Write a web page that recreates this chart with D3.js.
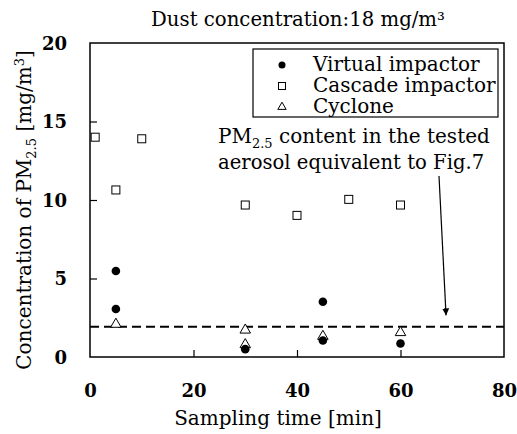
<!DOCTYPE html>
<html>
<head>
<meta charset="utf-8">
<script src="https://cdn.jsdelivr.net/npm/d3@7"></script>
<style>
  body { margin: 0; background: #fff; }
  svg text { font-family: "DejaVu Serif", "Liberation Serif", serif; fill: #000; }
</style>
</head>
<body>
<div id="chart"></div>
<script>
// sampling time [min] / PM2.5 concentration [mg/m3]
var virtualTime = [5, 5, 30, 45, 45, 60];
var virtualConc = [5.48, 3.06, 0.5, 3.52, 1.05, 0.86];
var cascadeTime = [1, 5, 10, 30, 40, 50, 60];
var cascadeConc = [14.0, 10.64, 13.9, 9.68, 9.02, 10.04, 9.68];
var cycloneTime = [5, 30, 30, 45, 60];
var cycloneConc = [2.15, 1.78, 0.85, 1.38, 1.62];
var pm25Level = 1.93;
var xTicks = [0, 20, 40, 60, 80];
var yTicks = [0, 5, 10, 15, 20];
var seriesNames = ["Virtual impactor", "Cascade impactor", "Cyclone"];

var margin = {top: 43, right: 13, bottom: 77, left: 90},
    width = 517 - margin.left - margin.right,
    height = 434 - margin.top - margin.bottom;

var svg = d3.select("#chart").append("svg")
    .attr("width", 517)
    .attr("height", 434);

var g = svg.append("g")
    .attr("transform", "translate(" + margin.left + "," + margin.top + ")");

var x = d3.scaleLinear().domain([0, 80]).range([0, width]);
var y = d3.scaleLinear().domain([0, 20]).range([height, 0]);

// frame
g.append("rect")
    .attr("width", width)
    .attr("height", height)
    .attr("fill", "none")
    .attr("stroke", "#000")
    .attr("stroke-width", 1.5);

// axes, ticks point inward
var xAxis = d3.axisBottom(x).tickValues(xTicks).tickSizeInner(-7).tickSizeOuter(0).tickPadding(27);
var yAxis = d3.axisLeft(y).tickValues(yTicks).tickSizeInner(-7).tickSizeOuter(0).tickPadding(23);

var gx = g.append("g")
    .attr("transform", "translate(0," + height + ")")
    .call(xAxis);
var gy = g.append("g").call(yAxis);

[gx, gy].forEach(function (a) {
    a.attr("font-family", null).attr("font-size", null);
    a.select(".domain").remove();
    a.selectAll(".tick line").attr("stroke", "#000").attr("stroke-width", 1.2);
    a.selectAll(".tick text")
        .style("font-size", "18px")
        .style("font-weight", "bold");
});
gx.selectAll(".tick text").attr("dy", null).attr("y", 40);
gy.selectAll(".tick text").attr("dy", "0.36em");
gx.selectAll(".tick").filter(function (d) { return d === 0 || d === 80; }).select("line").remove();
gy.selectAll(".tick").filter(function (d) { return d === 0 || d === 20; }).select("line").remove();

// dashed reference line
g.append("line")
    .attr("x1", x(0)).attr("x2", x(80))
    .attr("y1", y(pm25Level)).attr("y2", y(pm25Level))
    .attr("stroke", "#000")
    .attr("stroke-width", 2)
    .attr("stroke-dasharray", "9,5");

// markers
var tri = d3.symbol().type(d3.symbolTriangle).size(48);

g.selectAll(".cascade")
    .data(cascadeTime)
    .enter().append("rect")
    .attr("class", "cascade")
    .attr("x", function (d) { return x(d) - 4; })
    .attr("y", function (d, i) { return y(cascadeConc[i]) - 4; })
    .attr("width", 8).attr("height", 8)
    .attr("fill", "#fff").attr("stroke", "#000").attr("stroke-width", 1);

g.selectAll(".cyclone")
    .data(cycloneTime)
    .enter().append("path")
    .attr("class", "cyclone")
    .attr("d", tri)
    .attr("transform", function (d, i) { return "translate(" + x(d) + "," + (y(cycloneConc[i]) + 1) + ")"; })
    .attr("fill", "#fff").attr("stroke", "#000").attr("stroke-width", 1);

g.selectAll(".virtual")
    .data(virtualTime)
    .enter().append("circle")
    .attr("class", "virtual")
    .attr("cx", function (d) { return x(d); })
    .attr("cy", function (d, i) { return y(virtualConc[i]); })
    .attr("r", 4.3)
    .attr("fill", "#000");

// legend
var legend = g.append("g").attr("transform", "translate(163,6)");
legend.append("rect")
    .attr("width", 245).attr("height", 68)
    .attr("fill", "#fff").attr("stroke", "#000").attr("stroke-width", 1.2);
var items = legend.selectAll(".item")
    .data(seriesNames)
    .enter().append("g")
    .attr("class", "item")
    .attr("transform", function (d, i) { return "translate(29," + (16 + i * 21) + ")"; });
items.append("text")
    .attr("x", 31)
    .attr("y", 6)
    .style("font-size", "20px")
    .text(function (d) { return d; });
items.filter(function (d, i) { return i === 0; }).append("circle").attr("r", 3.5).attr("fill", "#000");
items.filter(function (d, i) { return i === 1; }).append("rect")
    .attr("x", -3.5).attr("y", -3.5).attr("width", 7).attr("height", 7)
    .attr("fill", "#fff").attr("stroke", "#000");
items.filter(function (d, i) { return i === 2; }).append("path")
    .attr("d", d3.symbol().type(d3.symbolTriangle).size(30))
    .attr("fill", "#fff").attr("stroke", "#000");

// annotation
var note = g.append("text").attr("x", 128).attr("y", 100).style("font-size", "20px");
note.append("tspan").text("PM");
note.append("tspan").attr("dy", 5).style("font-size", "13px").text("2.5");
note.append("tspan").attr("dy", -5).text(" content in the tested");
g.append("text").attr("x", 128).attr("y", 126).style("font-size", "19.6px")
    .text("aerosol equivalent to Fig.7");

svg.append("defs").append("marker")
    .attr("id", "arrow")
    .attr("viewBox", "0 0 10 10")
    .attr("refX", 10).attr("refY", 5)
    .attr("markerWidth", 7).attr("markerHeight", 9)
    .attr("markerUnits", "userSpaceOnUse")
    .attr("orient", "auto")
    .append("path").attr("d", "M0,0 L10,5 L0,10 z").attr("fill", "#000");

g.append("line")
    .attr("x1", 349).attr("y1", 133)
    .attr("x2", x(68.8)).attr("y2", y(2.65))
    .attr("stroke", "#000").attr("stroke-width", 1.2)
    .attr("marker-end", "url(#arrow)");

// titles
svg.append("text")
    .attr("x", 298).attr("y", 26)
    .attr("text-anchor", "middle")
    .style("font-size", "19.7px")
    .text("Dust concentration:18 mg/m\u00b3");

svg.append("text")
    .attr("x", 278).attr("y", 425)
    .attr("text-anchor", "middle")
    .style("font-size", "20px")
    .text("Sampling time [min]");

var yl = svg.append("text")
    .attr("transform", "translate(31,210) rotate(-90)")
    .attr("text-anchor", "middle")
    .style("font-size", "20px");
yl.append("tspan").text("Concentration of PM");
yl.append("tspan").attr("dy", 5).style("font-size", "13px").text("2.5");
yl.append("tspan").attr("dy", -5).text(" [mg/m");
yl.append("tspan").attr("dy", -7).style("font-size", "13px").text("3");
yl.append("tspan").attr("dy", 7).text("]");
</script>
</body>
</html>
